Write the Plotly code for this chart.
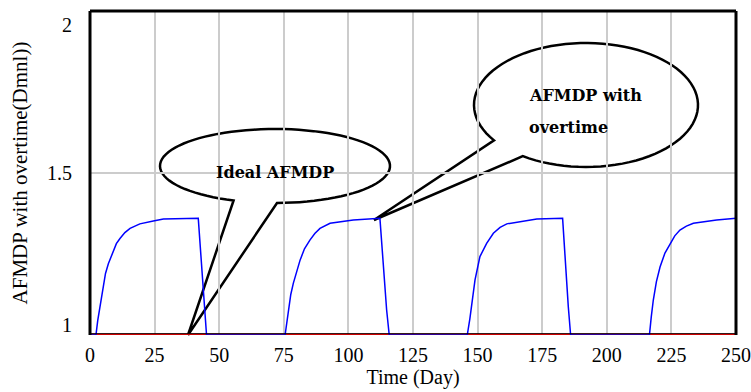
import numpy as np
import plotly.graph_objects as go

# ---------------- data ----------------
days_blue = [0, 2.3, 3.0, 3.9, 5.2, 6.0, 7.1, 9.0, 10.2, 11.6, 13.5, 15.5, 17.5, 19.3, 24.5, 28.4, 41.9, 42.8, 43.8, 45.1,
             75.5, 76.7, 77.7, 78.7, 80.0, 81.3, 83.0, 85.1, 87.0, 89.0, 92.9, 97.0, 101.9, 112.2, 113.5, 114.8, 115.8,
             146.0, 147.0, 147.7, 149.0, 150.9, 152.2, 153.5, 156.1, 158.7, 161.3, 166.4, 172.9, 182.9, 183.8, 185.1, 186.0,
             216.5, 217.2, 218.0, 219.2, 220.6, 222.5, 224.5, 226.3, 228.3, 230.8, 233.5, 237.5, 242.5, 250]
afmdp_overtime = [1.0, 1.0, 1.045, 1.087, 1.16, 1.19, 1.22, 1.262, 1.282, 1.298, 1.316, 1.329, 1.337, 1.343, 1.352, 1.358, 1.36, 1.262, 1.129, 1.0,
                  1.0, 1.077, 1.125, 1.16, 1.2, 1.231, 1.266, 1.293, 1.313, 1.329, 1.345, 1.35, 1.355, 1.36, 1.21, 1.077, 1.0,
                  1.0, 1.05, 1.087, 1.17, 1.242, 1.265, 1.283, 1.314, 1.332, 1.343, 1.35, 1.358, 1.36, 1.242, 1.087, 1.0,
                  1.0, 1.055, 1.108, 1.165, 1.21, 1.253, 1.283, 1.306, 1.324, 1.336, 1.345, 1.35, 1.355, 1.36]
days_red = [0, 250]
ideal_afmdp = [1.0, 1.0]

x_ticks = [0, 25, 50, 75, 100, 125, 150, 175, 200, 225, 250]
y_ticks = [1, 1.5, 2]
y_tick_text = ["1", "1.5", "2"]

# ---------------- layout geometry ----------------
W, H = 751, 392
ML, MR, MT, MB = 90, 15, 11, 57
PW, PH = W - ML - MR, H - MT - MB

def px2paper(px, py):
    return (px - ML) / PW, (MT + PH - py) / PH

def bubble_path(cx, cy, rx, ry, base_a, base_b, tip, n=90):
    ta = np.arctan2((base_a[1] - cy) / ry, (base_a[0] - cx) / rx)
    tb = np.arctan2((base_b[1] - cy) / ry, (base_b[0] - cx) / rx)
    # go from base_a the long way around to base_b
    if tb <= ta:
        tb += 2 * np.pi
    ts = np.linspace(ta, tb, n)
    pts = [(cx + rx * np.cos(t), cy + ry * np.sin(t)) for t in ts]
    pts.append(tip)
    parts = []
    for i, (x, y) in enumerate(pts):
        u, v = px2paper(x, y)
        parts.append(("M" if i == 0 else "L") + f"{u:.5f},{v:.5f}")
    return " ".join(parts) + " Z"

fig = go.Figure()
fig.add_trace(go.Scatter(x=days_red, y=ideal_afmdp, mode="lines",
                         line=dict(color="#ff0000", width=3), cliponaxis=False,
                         showlegend=False, hoverinfo="skip"))
fig.add_trace(go.Scatter(x=days_blue, y=afmdp_overtime, mode="lines",
                         line=dict(color="#0000ff", width=1.5), cliponaxis=False,
                         showlegend=False, hoverinfo="skip"))

shapes = []
# speech bubbles
shapes.append(dict(type="path", xref="paper", yref="paper", layer="between",
                   path=bubble_path(275, 166, 115, 37, (233, 201), (277, 203), (188, 335)),
                   line=dict(color="black", width=2.5), fillcolor="white"))
shapes.append(dict(type="path", xref="paper", yref="paper", layer="between",
                   path=bubble_path(586, 105, 112, 62, (495, 140), (523, 156), (374, 220)),
                   line=dict(color="black", width=2.5), fillcolor="white"))
# frame
shapes.append(dict(type="line", xref="paper", yref="paper", x0=0, x1=1, y0=1, y1=1,
                   line=dict(color="black", width=3)))
shapes.append(dict(type="line", xref="paper", yref="paper", x0=0, x1=0, y0=0, y1=1,
                   line=dict(color="black", width=3)))
shapes.append(dict(type="line", xref="paper", yref="paper", x0=1, x1=1, y0=0, y1=1,
                   line=dict(color="black", width=3)))
shapes.append(dict(type="line", xref="paper", yref="paper", x0=0, x1=1, y0=0.004, y1=0.004,
                   line=dict(color="black", width=1)))

serif = "Times New Roman"
bub_font = dict(family="DejaVu Serif", size=16, color="black")

annotations = [
    dict(xref="paper", yref="paper", x=px2paper(275, 0)[0], y=px2paper(0, 172)[1],
         text="<b>Ideal AFMDP</b>", showarrow=False, xanchor="center", yanchor="middle", font=bub_font),
    dict(xref="paper", yref="paper", x=px2paper(527, 0)[0], y=px2paper(0, 95)[1],
         text="<b>AFMDP with</b>", showarrow=False, xanchor="left", yanchor="middle", font=bub_font),
    dict(xref="paper", yref="paper", x=px2paper(527, 0)[0], y=px2paper(0, 127)[1],
         text="<b>overtime</b>", showarrow=False, xanchor="left", yanchor="middle", font=bub_font),
]
# y tick labels (placed inside the axis span as in the original)
y_shift = {2: -14, 1.5: 0, 1: 10}
for v, t in zip(y_ticks, y_tick_text):
    annotations.append(dict(xref="paper", yref="y", x=0, y=v, text=t, showarrow=False,
                            xanchor="right", yanchor="middle", xshift=-16, yshift=y_shift[v],
                            font=dict(family=serif, size=20, color="black")))

fig.update_layout(
    width=W, height=H,
    margin=dict(l=ML, r=MR, t=MT, b=MB),
    paper_bgcolor="white", plot_bgcolor="white",
    shapes=shapes, annotations=annotations,
    xaxis=dict(range=[0, 250], tickvals=x_ticks, showgrid=True, gridcolor="#cccccc", gridwidth=1.5,
               zeroline=False, showline=False, ticks="", automargin=False, ticklabelstandoff=6,
               tickfont=dict(family=serif, size=20, color="black"),
               title=dict(text="Time (Day)", font=dict(family=serif, size=20, color="black"), standoff=4)),
    yaxis=dict(range=[1, 2], tickvals=y_ticks, showticklabels=False, showgrid=True, automargin=False,
               gridcolor="#cccccc", gridwidth=1.5, zeroline=False, showline=False,
               title=dict(text="AFMDP with overtime(Dmnl))", font=dict(family=serif, size=21, color="black"),
                          standoff=55)),
)

fig.write_html("out.html")
